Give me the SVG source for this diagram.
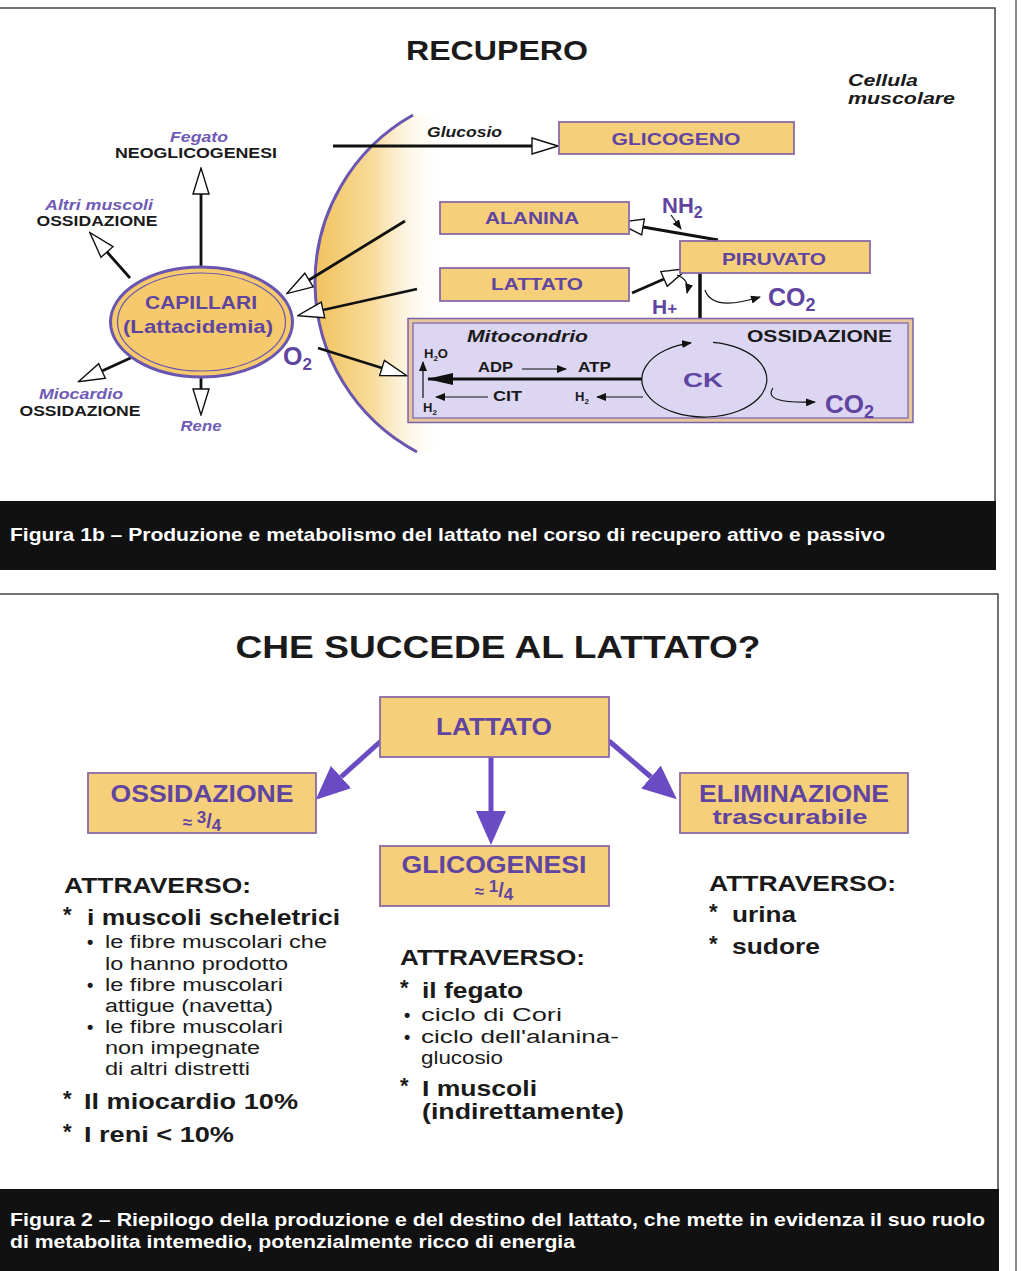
<svg xmlns="http://www.w3.org/2000/svg" width="1022" height="1271" viewBox="0 0 1022 1271">
<defs>
<style>
text{font-family:"Liberation Sans",Arial,sans-serif;}
.b{font-weight:bold;}
.bk{fill:#1a1a1a;}
.pu{fill:#5f45a0;font-weight:bold;}
.it{font-style:italic;font-weight:bold;fill:#6f5bb5;}
.box{fill:#f6cf7b;stroke:#8a6aa8;stroke-width:1.8;}
.ln{stroke:#111;stroke-width:2.8;fill:none;}
.thin{stroke:#111;stroke-width:1.2;fill:none;}
.pa{stroke:#6a4bc4;stroke-width:5;fill:none;}
.cap{fill:#fff;font-weight:bold;font-size:19px;}
.frame{stroke:#444;stroke-width:1.5;fill:none;}
.bul{font-size:18px;font-weight:bold;}
</style>
<marker id="open" viewBox="0 0 28 20" refX="1" refY="10" markerWidth="28" markerHeight="20" markerUnits="userSpaceOnUse" orient="auto">
<path d="M1,2 L27,10 L1,18 Z" fill="#fff" stroke="#111" stroke-width="1.4"/>
</marker>
<marker id="pur" viewBox="0 0 34 30" refX="0" refY="15" markerWidth="34" markerHeight="30" markerUnits="userSpaceOnUse" orient="auto">
<path d="M0,0 L34,15 L0,30 Z" fill="#6a4bc4"/>
</marker>
<marker id="sm" viewBox="0 0 10 8" refX="9" refY="4" markerWidth="10" markerHeight="8" markerUnits="userSpaceOnUse" orient="auto">
<path d="M0,0 L10,4 L0,8 Z" fill="#111"/>
</marker>
<marker id="big" viewBox="0 0 26 12" refX="25" refY="6" markerWidth="26" markerHeight="12" markerUnits="userSpaceOnUse" orient="auto">
<path d="M0,0 L26,6 L0,12 Z" fill="#111"/>
</marker>
<linearGradient id="cell" gradientUnits="userSpaceOnUse" x1="316" y1="0" x2="445" y2="0">
<stop offset="0" stop-color="#f2c25e"/>
<stop offset="0.45" stop-color="#f8dc9c"/>
<stop offset="1" stop-color="#ffffff" stop-opacity="0"/>
</linearGradient>
</defs>
<rect width="1022" height="1271" fill="#fff"/>

<!-- frames -->
<path class="frame" d="M0,8 H995 V501"/>
<rect x="0" y="501" width="996" height="69" fill="#111"/>
<path class="frame" d="M0,594 H998 V1189"/>
<rect x="0" y="1189" width="999" height="82" fill="#111"/>
<line x1="1016" y1="0" x2="1016" y2="1271" stroke="#666" stroke-width="1.5"/>

<!-- ===== Figure 1b ===== -->
<text x="497" y="60" class="b bk" font-size="28" text-anchor="middle" textLength="182" lengthAdjust="spacingAndGlyphs">RECUPERO</text>
<text x="848" y="86" class="bk" font-style="italic" font-weight="bold" font-size="16" textLength="70" lengthAdjust="spacingAndGlyphs">Cellula</text>
<text x="848" y="104" class="bk" font-style="italic" font-weight="bold" font-size="16" textLength="107" lengthAdjust="spacingAndGlyphs">muscolare</text>

<!-- cell membrane -->
<g id="cell-membrane">
<path d="M413,115 A192,192 0 0 0 417,452 L460,452 L460,115 Z" fill="url(#cell)"/>
<path d="M413,115 A192,192 0 0 0 417,452" fill="none" stroke="#6a55b0" stroke-width="3"/>
</g>

<!-- connectors -->
<g id="connectors-1b">
<line class="ln" x1="201" y1="267" x2="201" y2="194" marker-end="url(#open)"/>
<line class="ln" x1="130" y1="278" x2="107" y2="252" marker-end="url(#open)"/>
<line class="ln" x1="137" y1="355" x2="102" y2="371" marker-end="url(#open)"/>
<line class="ln" x1="201" y1="377" x2="201" y2="389" marker-end="url(#open)"/>
<line class="ln" x1="405" y1="221" x2="309" y2="280" marker-end="url(#open)"/>
<line class="ln" x1="417" y1="289" x2="323" y2="310" marker-end="url(#open)"/>
<line class="ln" x1="318" y1="348" x2="382" y2="368" marker-end="url(#open)"/>
<line class="ln" x1="333" y1="146" x2="532" y2="146" marker-end="url(#open)"/>
<line class="ln" x1="718" y1="240" x2="643" y2="227" marker-end="url(#open)"/>
<line class="ln" x1="632" y1="293" x2="664" y2="279" marker-end="url(#open)"/>
<line x1="671" y1="215" x2="681" y2="229" class="thin" marker-end="url(#sm)"/>
<path d="M677,275 Q690,280 687,293" class="thin" marker-end="url(#sm)"/>
<line x1="700" y1="273" x2="700" y2="332" stroke="#111" stroke-width="3.5"/>
<path d="M705,290 Q712,312 760,297" class="thin" marker-end="url(#sm)"/>
</g>

<!-- capillari -->
<g id="capillari">
<ellipse cx="201.5" cy="322" rx="91" ry="55" fill="#f5c96c" stroke="#6a55b0" stroke-width="3"/>
<ellipse cx="201.5" cy="322" rx="84" ry="49" fill="none" stroke="#6a55b0" stroke-width="1.2"/>
<text x="201" y="309" class="pu" font-size="19" text-anchor="middle" textLength="112" lengthAdjust="spacingAndGlyphs">CAPILLARI</text>
<text x="198" y="333" class="pu" font-size="19" text-anchor="middle" textLength="150" lengthAdjust="spacingAndGlyphs">(Lattacidemia)</text>
</g>

<g id="fegato">
<text x="199" y="142" class="it" font-size="14" text-anchor="middle" textLength="58" lengthAdjust="spacingAndGlyphs">Fegato</text>
<text x="196" y="158" class="b bk" font-size="15" text-anchor="middle" textLength="162" lengthAdjust="spacingAndGlyphs">NEOGLICOGENESI</text>
</g>
<g id="altri-muscoli">
<text x="99" y="210" class="it" font-size="15" text-anchor="middle" textLength="108" lengthAdjust="spacingAndGlyphs">Altri muscoli</text>
<text x="97" y="226" class="b bk" font-size="15" text-anchor="middle" textLength="121" lengthAdjust="spacingAndGlyphs">OSSIDAZIONE</text>
</g>
<g id="miocardio">
<text x="81" y="399" class="it" font-size="15" text-anchor="middle" textLength="84" lengthAdjust="spacingAndGlyphs">Miocardio</text>
<text x="80" y="416" class="b bk" font-size="15" text-anchor="middle" textLength="121" lengthAdjust="spacingAndGlyphs">OSSIDAZIONE</text>
</g>
<g id="rene">
<text x="201" y="431" class="it" font-size="15" text-anchor="middle" textLength="41" lengthAdjust="spacingAndGlyphs">Rene</text>
</g>
<g id="o2-left">
<text x="283" y="365" class="pu" font-size="25">O<tspan font-size="17" dy="5">2</tspan></text>
</g>
<text x="427" y="137" class="bk" font-style="italic" font-weight="bold" font-size="14" textLength="75" lengthAdjust="spacingAndGlyphs">Glucosio</text>

<g id="glicogeno">
<rect class="box" x="559" y="122" width="235" height="32"/>
<text x="676" y="145" class="pu" font-size="17" text-anchor="middle" textLength="129" lengthAdjust="spacingAndGlyphs">GLICOGENO</text>
</g>
<g id="alanina">
<rect class="box" x="440" y="202" width="189" height="32"/>
<text x="532" y="224" class="pu" font-size="17" text-anchor="middle" textLength="94" lengthAdjust="spacingAndGlyphs">ALANINA</text>
</g>
<g id="lattato-1b">
<rect class="box" x="440" y="268" width="189" height="33"/>
<text x="537" y="290" class="pu" font-size="17" text-anchor="middle" textLength="92" lengthAdjust="spacingAndGlyphs">LATTATO</text>
</g>
<g id="piruvato">
<rect class="box" x="680" y="241" width="190" height="32"/>
<text x="774" y="265" class="pu" font-size="17" text-anchor="middle" textLength="104" lengthAdjust="spacingAndGlyphs">PIRUVATO</text>
</g>
<g id="nh2"><text x="662" y="213" class="pu" font-size="22">NH<tspan font-size="16" dy="5">2</tspan></text></g>
<g id="hplus"><text x="652" y="314" class="pu" font-size="21">H<tspan font-size="17">+</tspan></text></g>
<g id="co2-top"><text x="768" y="306" class="pu" font-size="25">CO<tspan font-size="18" dy="5">2</tspan></text></g>

<!-- mitocondrio -->
<g id="mitocondrio">
<rect x="408" y="318.5" width="505" height="104" fill="#e8c79c" stroke="#7a63a8" stroke-width="1.5"/>
<rect x="413" y="323" width="495" height="95" fill="#dcd6f2" stroke="#7a63a8" stroke-width="1.2"/>
<text x="467" y="342" class="bk" font-style="italic" font-weight="bold" font-size="16" textLength="121" lengthAdjust="spacingAndGlyphs">Mitocondrio</text>
<text x="747" y="342" class="b bk" font-size="16" textLength="145" lengthAdjust="spacingAndGlyphs">OSSIDAZIONE</text>
<text x="424" y="358" class="b bk" font-size="13">H<tspan font-size="8" dy="3">2</tspan><tspan dy="-3">O</tspan></text>
<text x="423" y="412" class="b bk" font-size="13">H<tspan font-size="8" dy="3">2</tspan></text>
<line x1="423" y1="398" x2="423" y2="362" class="thin" marker-end="url(#sm)"/>
<text x="478" y="372" class="b bk" font-size="14" textLength="35" lengthAdjust="spacingAndGlyphs">ADP</text>
<line x1="522" y1="369" x2="566" y2="369" class="thin" marker-end="url(#sm)"/>
<text x="578" y="372" class="b bk" font-size="14" textLength="33" lengthAdjust="spacingAndGlyphs">ATP</text>
<line x1="642" y1="379" x2="428" y2="379" stroke="#111" stroke-width="3" marker-end="url(#big)"/>
<line x1="488" y1="397" x2="436" y2="397" class="thin" marker-end="url(#sm)"/>
<text x="493" y="401" class="b bk" font-size="14" textLength="29" lengthAdjust="spacingAndGlyphs">CIT</text>
<text x="575" y="401" class="b bk" font-size="13">H<tspan font-size="8" dy="3">2</tspan></text>
<line x1="643" y1="397" x2="597" y2="397" class="thin" marker-end="url(#sm)"/>
<path d="M713,342.4 A62.5,37.5 0 1 1 691,342.9" class="thin" marker-end="url(#sm)"/>
<text x="703" y="387" class="pu" font-size="21" text-anchor="middle" textLength="40" lengthAdjust="spacingAndGlyphs">CK</text>
<path d="M773,388 Q762,404 815,402" class="thin" marker-end="url(#sm)"/>
<text x="825" y="413" class="pu" font-size="26">CO<tspan font-size="18" dy="5">2</tspan></text>
</g>

<text x="10" y="541" class="cap" textLength="875" lengthAdjust="spacingAndGlyphs">Figura 1b – Produzione e metabolismo del lattato nel corso di recupero attivo e passivo</text>

<!-- ===== Figure 2 ===== -->
<text x="498" y="658" class="b bk" font-size="32" text-anchor="middle" textLength="525" lengthAdjust="spacingAndGlyphs">CHE SUCCEDE AL LATTATO?</text>

<g id="connectors-2">
<line class="pa" x1="381" y1="741" x2="341" y2="777" marker-end="url(#pur)"/>
<line class="pa" x1="491" y1="757" x2="491" y2="811" marker-end="url(#pur)"/>
<line class="pa" x1="609" y1="741" x2="651" y2="777" marker-end="url(#pur)"/>
</g>

<g id="lattato">
<rect class="box" x="380" y="697" width="229" height="60"/>
<text x="494" y="735" class="pu" font-size="23" text-anchor="middle" textLength="116" lengthAdjust="spacingAndGlyphs">LATTATO</text>
</g>
<g id="ossidazione">
<rect class="box" x="88" y="773" width="228" height="60"/>
<text x="202" y="802" class="pu" font-size="24" text-anchor="middle" textLength="183" lengthAdjust="spacingAndGlyphs">OSSIDAZIONE</text>
<text x="202" y="828" class="pu" font-size="17" text-anchor="middle" font-weight="normal">≈ <tspan font-weight="bold" dy="-5" font-size="17">3</tspan><tspan font-weight="bold" dy="5" font-size="20">/</tspan><tspan font-weight="bold" dy="3" font-size="17">4</tspan></text>
</g>
<g id="glicogenesi">
<rect class="box" x="380" y="846" width="229" height="60"/>
<text x="494" y="873" class="pu" font-size="24" text-anchor="middle" textLength="185" lengthAdjust="spacingAndGlyphs">GLICOGENESI</text>
<text x="494" y="897" class="pu" font-size="17" text-anchor="middle" font-weight="normal">≈ <tspan font-weight="bold" dy="-5" font-size="17">1</tspan><tspan font-weight="bold" dy="5" font-size="20">/</tspan><tspan font-weight="bold" dy="3" font-size="17">4</tspan></text>
</g>
<g id="eliminazione">
<rect class="box" x="680" y="773" width="228" height="60"/>
<text x="794" y="802" class="pu" font-size="24" text-anchor="middle" textLength="190" lengthAdjust="spacingAndGlyphs">ELIMINAZIONE</text>
<text x="790" y="824" class="pu" font-size="21" text-anchor="middle" textLength="155" lengthAdjust="spacingAndGlyphs">trascurabile</text>
</g>

<g id="col-left" class="bk">
<text x="64" y="893" class="b" font-size="22" textLength="187" lengthAdjust="spacingAndGlyphs">ATTRAVERSO:</text>
<text x="63" y="922" class="b" font-size="22">*</text>
<text x="87" y="925" class="b" font-size="22" textLength="253" lengthAdjust="spacingAndGlyphs">i muscoli scheletrici</text>
<text x="87" y="948" class="bul">•</text>
<text x="105" y="948" font-size="18" textLength="222" lengthAdjust="spacingAndGlyphs">le fibre muscolari che</text>
<text x="105" y="970" font-size="18" textLength="183" lengthAdjust="spacingAndGlyphs">lo hanno prodotto</text>
<text x="87" y="991" class="bul">•</text>
<text x="105" y="991" font-size="18" textLength="178" lengthAdjust="spacingAndGlyphs">le fibre muscolari</text>
<text x="105" y="1012" font-size="18" textLength="168" lengthAdjust="spacingAndGlyphs">attigue (navetta)</text>
<text x="87" y="1033" class="bul">•</text>
<text x="105" y="1033" font-size="18" textLength="178" lengthAdjust="spacingAndGlyphs">le fibre muscolari</text>
<text x="105" y="1054" font-size="18" textLength="155" lengthAdjust="spacingAndGlyphs">non impegnate</text>
<text x="105" y="1075" font-size="18" textLength="145" lengthAdjust="spacingAndGlyphs">di altri distretti</text>
<text x="63" y="1106" class="b" font-size="22">*</text>
<text x="84" y="1109" class="b" font-size="22" textLength="214" lengthAdjust="spacingAndGlyphs">Il miocardio 10%</text>
<text x="63" y="1139" class="b" font-size="22">*</text>
<text x="84" y="1142" class="b" font-size="22" textLength="150" lengthAdjust="spacingAndGlyphs">I reni &lt; 10%</text>
</g>

<g id="col-mid" class="bk">
<text x="400" y="965" class="b" font-size="22" textLength="185" lengthAdjust="spacingAndGlyphs">ATTRAVERSO:</text>
<text x="400" y="995" class="b" font-size="22">*</text>
<text x="422" y="998" class="b" font-size="22" textLength="101" lengthAdjust="spacingAndGlyphs">il fegato</text>
<text x="404" y="1021" class="bul">•</text>
<text x="421" y="1021" font-size="18" textLength="141" lengthAdjust="spacingAndGlyphs">ciclo di Cori</text>
<text x="404" y="1043" class="bul">•</text>
<text x="421" y="1043" font-size="18" textLength="198" lengthAdjust="spacingAndGlyphs">ciclo dell'alanina-</text>
<text x="421" y="1064" font-size="18" textLength="82" lengthAdjust="spacingAndGlyphs">glucosio</text>
<text x="400" y="1093" class="b" font-size="22">*</text>
<text x="422" y="1096" class="b" font-size="22" textLength="115" lengthAdjust="spacingAndGlyphs">I muscoli</text>
<text x="422" y="1119" class="b" font-size="22" textLength="202" lengthAdjust="spacingAndGlyphs">(indirettamente)</text>
</g>

<g id="col-right" class="bk">
<text x="709" y="891" class="b" font-size="22" textLength="187" lengthAdjust="spacingAndGlyphs">ATTRAVERSO:</text>
<text x="709" y="919" class="b" font-size="22">*</text>
<text x="732" y="922" class="b" font-size="22" textLength="64" lengthAdjust="spacingAndGlyphs">urina</text>
<text x="709" y="951" class="b" font-size="22">*</text>
<text x="732" y="954" class="b" font-size="22" textLength="88" lengthAdjust="spacingAndGlyphs">sudore</text>
</g>

<text x="10" y="1226" class="cap" textLength="975" lengthAdjust="spacingAndGlyphs">Figura 2 – Riepilogo della produzione e del destino del lattato, che mette in evidenza il suo ruolo</text>
<text x="10" y="1248" class="cap" textLength="565" lengthAdjust="spacingAndGlyphs">di metabolita intemedio, potenzialmente ricco di energia</text>
</svg>
